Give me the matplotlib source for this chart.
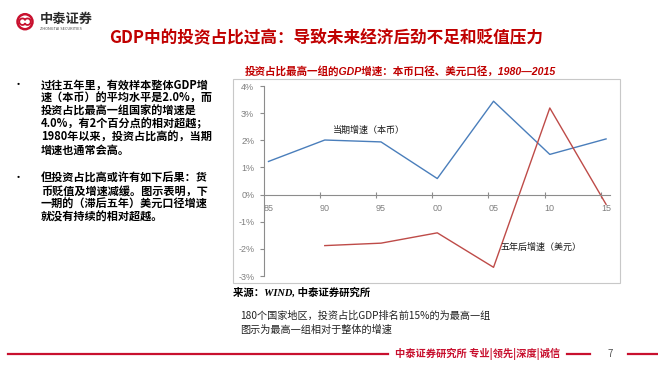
import matplotlib
matplotlib.use('Agg')
import matplotlib.pyplot as plt
from matplotlib.patches import Rectangle, Ellipse, Arc
import numpy as np

plt.rcParams['font.family'] = ['Noto Sans CJK SC', 'DejaVu Sans']

# chart data (percent)
years = ['85', '90', '95', '00', '05', '10', '15']
local_growth = [1.22, 2.01, 1.94, 0.59, 3.44, 1.48, 2.05]
usd_growth_5y = [np.nan, -1.88, -1.79, -1.41, -2.68, 3.19, -0.36]
yticks = [-3, -2, -1, 0, 1, 2, 3, 4]

W, H = 658, 373
RED = '#C00000'


def fx(px):
    return px / W


def fy(py):
    return 1 - py / H


fig = plt.figure(figsize=(W / 100, H / 100), dpi=100)
fig.patch.set_facecolor('white')

# logo
fig.patches.append(Ellipse((fx(25), fy(21.7)), 15 / W, 15 / H, transform=fig.transFigure,
                           fill=False, ec='#C8102E', lw=1.8))
fig.patches.append(Arc((fx(22.5), fy(21.7)), 6.5 / W, 6.5 / H, theta1=40, theta2=320,
                       transform=fig.transFigure, ec='#C8102E', lw=1.3))
fig.patches.append(Arc((fx(27.5), fy(21.7)), 6.5 / W, 6.5 / H, theta1=220, theta2=140,
                       transform=fig.transFigure, ec='#C8102E', lw=1.3))
fig.text(fx(40), fy(19), '中泰证券', fontsize=9.5, weight='bold', color='#2b2b2b',
         ha='left', va='center')
fig.text(fx(40), fy(28.5), 'ZHONGTAI SECURITIES', fontsize=2.8, color='#444444',
         ha='left', va='center')

# slide title
fig.text(fx(326.5), fy(38.5), 'GDP中的投资占比过高：导致未来经济后劲不足和贬值压力',
         fontsize=12, weight='bold', color=RED, ha='center', va='center')

# left bullet text
para1 = ['过往五年里，有效样本整体GDP增',
         '速（本币）的平均水平是2.0%，而',
         '投资占比最高一组国家的增速是',
         '4.0%，有2个百分点的相对超越；',
         '1980年以来，投资占比高的，当期',
         '增速也通常会高。']
para2 = ['但投资占比高或许有如下后果：货',
         '币贬值及增速减缓。图示表明，下',
         '一期的（滞后五年）美元口径增速',
         '就没有持续的相对超越。']
for start, lines in [(85, para1), (178.3, para2)]:
    fig.text(fx(18), fy(start), '•', fontsize=8, color='black', ha='center', va='center')
    for i, line in enumerate(lines):
        fig.text(fx(41), fy(start + i * 13.1), line, fontsize=8, weight='bold',
                 color='black', ha='left', va='center')

# chart frame
fig.patches.append(Rectangle((fx(233), fy(283)), 387 / W, 204 / H,
                             transform=fig.transFigure, fill=False,
                             ec='#C8C8C8', lw=0.8))

# chart title
fig.text(fx(245), fy(71.7), '投资占比最高一组的GDP增速：本币口径、美元口径，1980—2015',
         fontsize=7.6, weight='bold', style='italic', color=RED,
         family=['Liberation Sans', 'Noto Sans CJK SC'], ha='left', va='center')

# chart axes
ax = fig.add_axes([fx(264), fy(276), (610 - 264) / W, (276 - 86) / H])
x = np.arange(len(years))
ax.plot(x, local_growth, color='#4A7EBB', lw=1.0)
ax.plot(x, usd_growth_5y, color='#BE4B48', lw=1.0)
ax.set_xlim(-0.08, 6.07)
ax.set_ylim(-3, 4)

axis_col = '#8C8C8C'
for s in ['top', 'right']:
    ax.spines[s].set_visible(False)
ax.spines['left'].set_color(axis_col)
ax.spines['bottom'].set_color(axis_col)
ax.spines['left'].set_linewidth(0.8)
ax.spines['bottom'].set_linewidth(0.8)
ax.spines['bottom'].set_position(('data', 0))
ax.spines['left'].set_position(('data', -0.08))

ax.set_yticks(yticks)
ax.set_yticklabels([f'{v}%' for v in yticks])
ax.tick_params(axis='y', direction='out', length=3, width=0.8, color=axis_col,
               labelsize=6.5, labelcolor='#7F7F7F', pad=4)

ax.set_xticks(x)
ax.set_xticklabels(years)
ax.set_xticks(x[1:] - 0.09, minor=True)
ax.tick_params(axis='x', which='major', length=0, labelsize=6.5,
               labelcolor='#7F7F7F', pad=7)
ax.tick_params(axis='x', which='minor', direction='inout', length=4, width=0.8,
               color=axis_col)
for lab in ax.get_xticklabels() + ax.get_yticklabels():
    lab.set_family(['Liberation Sans', 'DejaVu Sans'])

ax.text(1.15, 2.38, '当期增速（本币）', fontsize=6.5, color='#1a1a1a',
        ha='left', va='center')
ax.text(4.13, -1.94, '五年后增速（美元）', fontsize=6.5, color='#1a1a1a',
        ha='left', va='center')
ax.patch.set_alpha(0)

# source and notes
fig.text(fx(233), fy(292.5), '来源：WIND, 中泰证券研究所', fontsize=7.5, weight='bold',
         style='italic', color='black', family=['Liberation Serif', 'Noto Sans CJK SC'],
         ha='left', va='center')
fig.text(fx(240), fy(315.7), '180个国家地区，投资占比GDP排名前15%的为最高一组',
         fontsize=7.3, color='#222222', ha='left', va='center')
fig.text(fx(240), fy(329.5), '图示为最高一组相对于整体的增速',
         fontsize=7.3, color='#222222', ha='left', va='center')

# footer
for x0, x1 in [(8, 388), (567, 590), (628, 658)]:
    fig.add_artist(plt.Line2D([fx(x0), fx(x1)], [fy(354.3), fy(354.3)],
                              transform=fig.transFigure, color='#C8102E', lw=1.6))
fig.text(fx(395), fy(354.3), '中泰证券研究所 专业|领先|深度|诚信', fontsize=7.4,
         weight='bold', color='#C8102E', ha='left', va='center')
fig.text(fx(610), fy(354.3), '7', fontsize=7, color='#555555', ha='center', va='center')

fig.savefig('out.png', dpi=100, facecolor='white')
